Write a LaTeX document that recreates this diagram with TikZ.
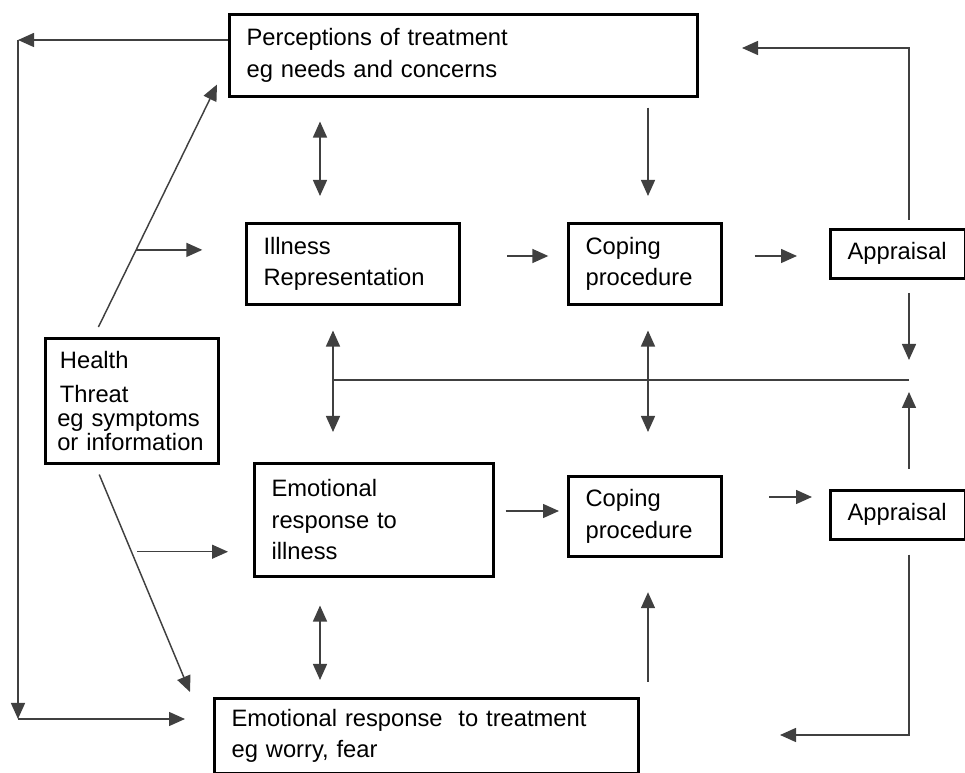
\documentclass[tikz,border=0pt]{standalone}
\usepackage{fontspec}
\setmainfont{Liberation Sans}
\usetikzlibrary{arrows.meta,calc}

\tikzset{every picture/.style={line width=0.75pt}}
\tikzset{
  cmbox/.style={draw, line width=1.9pt, anchor=north west, align=left, inner xsep=13pt, inner ysep=0pt, font=\fontsize{17.8}{23.5}\selectfont},
  cmline/.style={draw=black!75, line width=1.1pt},
  cmarr/.style={cmline, -{Triangle[length=12pt,width=10.5pt]}},
  cmdbl/.style={cmline, {Triangle[length=12pt,width=10.5pt]}-{Triangle[length=12pt,width=10.5pt]}},
}

\begin{document}
\begin{tikzpicture}[x=0.75pt,y=0.75pt,yscale=-1,xscale=1]
\useasboundingbox (0,0) rectangle (965,773);

%Shape: Rectangle [perceptions of treatment]
\node (perc) at (228,13) [cmbox, text width=325pt, minimum height=61.5pt] {Perceptions of treatment\\eg needs and concerns};
%Shape: Rectangle [illness representation]
\node (illrep) at (245,222) [cmbox, text width=133.75pt, minimum height=60.75pt] {Illness\\Representation};
%Shape: Rectangle [coping, top]
\node (cop1) at (567,222) [cmbox, text width=88.75pt, minimum height=60.75pt] {Coping\\procedure};
%Shape: Rectangle [appraisal, top]
\node (app1) at (829,228) [cmbox, text width=75pt, minimum height=36.75pt] {Appraisal};
%Shape: Rectangle [health threat]
\node (health) at (44,337) [cmbox, inner xsep=9pt, text width=111.75pt, minimum height=93.75pt] {\hspace*{2pt}Health\\[2.5pt]\hspace*{2pt}Threat\\[-6pt]\mbox{eg symptoms}\\[-5.5pt]\mbox{or information}};
%Shape: Rectangle [emotional response to illness]
\node (emo) at (253,462) [cmbox, text width=153.25pt, minimum height=84.75pt] {Emotional\\response to\\illness};
%Shape: Rectangle [coping, bottom]
\node (cop2) at (567,475) [cmbox, text width=88.75pt, minimum height=60pt] {Coping\\procedure};
%Shape: Rectangle [appraisal, bottom]
\node (app2) at (829,489) [cmbox, text width=75pt, minimum height=36.75pt] {Appraisal};
%Shape: Rectangle [emotional response to treatment]
\node (treat) at (213,697) [cmbox, text width=292pt, minimum height=56.25pt] {Emotional response\ \ to treatment\\eg worry, fear};

% columns and rows of the free arrows
\coordinate (colA) at (320,0);
\coordinate (colB) at (333,0);
\coordinate (colC) at (648,0);
\coordinate (colD) at (909,0);
\coordinate (rowA) at (0,256);
\coordinate (rowB) at (0,380);
\coordinate (rowC) at (0,511);
\coordinate (rowD) at (0,497);

%Straight Lines [left rail]
\coordinate (railtop) at (18,40);
\coordinate (railbot) at (18,719);
\draw [cmarr] (perc.west |- railtop) -- (railtop);
\draw [cmarr] (railtop) -- (railbot);
\draw [cmarr, shorten >=21pt] (railbot) -- (railbot -| treat.west);

%Straight Lines [health threat, upwards]
\coordinate (hup) at ([xshift=-25pt,yshift=-7.5pt]health.north);
\coordinate (pup) at ([xshift=-8.25pt,yshift=-9.75pt]perc.south west);
\draw [cmarr] (hup) -- (pup);
\coordinate (hupmid) at ($(hup)!0.318!(pup)$);
\draw [cmarr, shorten >=32pt] (hupmid) -- (hupmid -| illrep.west);

%Straight Lines [health threat, downwards]
\coordinate (hdn) at ([xshift=-24.4pt,yshift=7.5pt]health.south);
\coordinate (tdn) at ([xshift=-17.25pt,yshift=-3.75pt]treat.north west);
\draw [cmarr] (hdn) -- (tdn);
\coordinate (hdnmid) at ($(hdn)!0.355!(tdn)+(6,0)$);
\draw [cmarr, shorten >=18.75pt] (hdnmid) -- (hdnmid -| emo.west);

%Straight Lines [top row]
\draw [cmdbl, shorten <=18pt, shorten >=19.5pt] (colA |- perc.south) -- (colA |- illrep.north);
\draw [cmarr, shorten <=7.5pt, shorten >=19.5pt] (colC |- perc.south) -- (colC |- cop1.north);
\draw [cmarr, shorten <=35pt, shorten >=14pt] (illrep.east |- rowA) -- (cop1.west |- rowA);
\draw [cmarr, shorten <=24pt, shorten >=24pt] (cop1.east |- rowA) -- (app1.west |- rowA);
\coordinate (percin) at (742,48);
\draw [cmarr, shorten <=6pt] (colD |- app1.north) |- (percin);

%Straight Lines [middle junction]
\coordinate (junc) at (colD |- rowB);
\draw [cmarr, shorten <=10pt, shorten >=15pt] (colD |- app1.south) -- (junc);
\draw [cmarr, shorten <=15pt, shorten >=9pt] (colD |- app2.north) -- (junc);
\draw [cmline] (junc) -- (colB |- junc);
\draw [cmdbl, shorten <=18.75pt, shorten >=22.5pt] (colB |- illrep.south) -- (colB |- emo.north);
\draw [cmdbl, shorten <=18.75pt, shorten >=32.25pt] (colC |- cop1.south) -- (colC |- cop2.north);

%Straight Lines [bottom row]
\draw [cmarr, shorten <=8.25pt, shorten >=6pt] (emo.east |- rowC) -- (cop2.west |- rowC);
\draw [cmarr, shorten <=35pt, shorten >=12.75pt] (cop2.east |- rowD) -- (app2.west |- rowD);
\coordinate (treatin) at (780,735);
\draw [cmarr, shorten <=10.5pt] (colD |- app2.south) |- (treatin);
\draw [cmdbl, shorten <=21pt, shorten >=12.75pt] (colA |- emo.south) -- (colA |- treat.north);
\draw [cmarr, shorten <=11.25pt, shorten >=26pt] (colC |- treat.north) -- (colC |- cop2.south);

\end{tikzpicture}
\end{document}
